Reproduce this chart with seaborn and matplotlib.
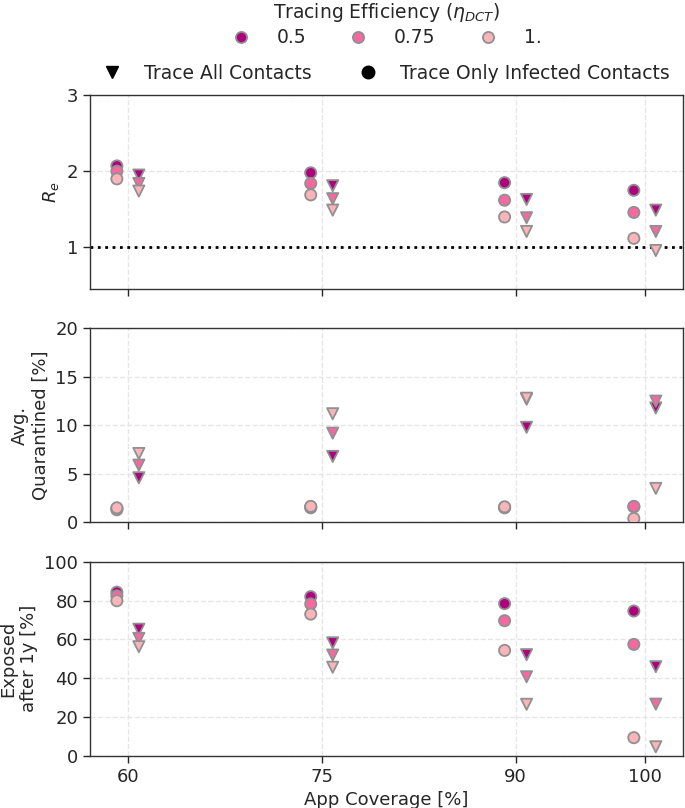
import matplotlib
matplotlib.use('Agg')
import matplotlib.pyplot as plt
from matplotlib.lines import Line2D
import numpy as np
import pandas as pd
import seaborn as sns

coverage = [60, 75, 90, 100]
efficiencies = ['0.5', '0.75', '1.']
methods = ['Trace All Contacts', 'Trace Only Infected Contacts']
eff_colors = ['#ae017e', '#f768a1', '#fbb4b9']

# values[method][efficiency] -> one value per coverage
re_all = {'0.5': [1.95, 1.81, 1.63, 1.49],
          '0.75': [1.84, 1.64, 1.39, 1.21],
          '1.': [1.74, 1.49, 1.21, 0.96]}
re_inf = {'0.5': [2.07, 1.98, 1.85, 1.75],
          '0.75': [2.00, 1.84, 1.62, 1.46],
          '1.': [1.90, 1.69, 1.40, 1.12]}

quar_all = {'0.5': [4.6, 6.8, 9.8, 11.8],
            '0.75': [5.9, 9.2, 12.7, 12.5],
            '1.': [7.1, 11.2, 12.8, 3.5]}
quar_inf = {'0.5': [1.3, 1.5, 1.5, 1.6],
            '0.75': [1.4, 1.6, 1.55, 1.65],
            '1.': [1.5, 1.65, 1.6, 0.4]}

exp_all = {'0.5': [65.2, 58.2, 52.1, 45.9],
           '0.75': [60.5, 51.9, 40.7, 26.6],
           '1.': [56.2, 45.6, 26.5, 4.6]}
exp_inf = {'0.5': [84.3, 82.0, 78.4, 74.6],
           '0.75': [82.4, 78.2, 69.6, 57.4],
           '1.': [79.9, 73.0, 54.3, 9.3]}


def build_df(all_vals, inf_vals, name):
  rows = []
  for method, vals in zip(methods, [all_vals, inf_vals]):
    for eff in efficiencies:
      for cov, v in zip(coverage, vals[eff]):
        rows.append({'coverage': cov, 'eff': eff, 'method': method, name: v})
  return pd.DataFrame(rows)


sns.set_style('white')
plt.rcParams['font.family'] = ['DejaVu Sans']
plt.rcParams['font.size'] = 13

fig, axes = plt.subplots(3, 1, figsize=(6.85, 8.08), dpi=100, sharex=True)
fig.subplots_adjust(left=0.131, right=0.997, top=0.8824, bottom=0.0647, hspace=0.203)

offset = {'Trace All Contacts': 0.85, 'Trace Only Infected Contacts': -0.85}
panels = [(re_all, re_inf, 'Re', '$R_e$', (0.455, 3), [1, 2, 3]),
          (quar_all, quar_inf, 'quar', 'Avg.\nQuarantined [%]', (0, 20), [0, 5, 10, 15, 20]),
          (exp_all, exp_inf, 'exp', 'Exposed\nafter 1y [%]', (0, 100), [0, 20, 40, 60, 80, 100])]

for ax, (all_vals, inf_vals, name, label, ylim, yticks) in zip(axes, panels):
  df = build_df(all_vals, inf_vals, name)
  df['xpos'] = df['coverage'] + df['method'].map(offset)
  sns.scatterplot(data=df, x='xpos', y=name, hue='eff', style='method',
                  hue_order=efficiencies, palette=eff_colors,
                  markers={'Trace All Contacts': 'v', 'Trace Only Infected Contacts': 'o'},
                  s=65, edgecolor='#909090', linewidth=1.3, legend=False, ax=ax, zorder=3)
  if name == 'Re':
    ax.axhline(1, color='black', linestyle=':', linewidth=2, zorder=2)
  ax.set_ylim(*ylim)
  ax.set_yticks(yticks)
  ax.set_ylabel(label, fontsize=13)
  ax.set_xlabel('')
  ax.grid(True, linestyle='--', color='#e6e6e6', linewidth=1)
  ax.tick_params(axis='both', direction='out', length=5, width=1, labelsize=13,
                 left=True, bottom=True)
  for sp in ax.spines.values():
    sp.set_color('#333333')
    sp.set_linewidth(1)

axes[-1].set_xlim(57.05, 102.95)
axes[-1].set_xticks(coverage)
axes[-1].set_xlabel('App Coverage [%]', fontsize=13)

eff_handles = [Line2D([], [], marker='o', linestyle='', markersize=8,
                      markerfacecolor=c, markeredgecolor='#909090', markeredgewidth=1.3)
               for c in eff_colors]
fig.legend(eff_handles, efficiencies, title='Tracing Efficiency ($\\eta_{DCT}$)',
           loc='center', bbox_to_anchor=(0.564, 0.970), ncol=3, frameon=False,
           fontsize=13.5, title_fontsize=13.5, handlelength=1, handletextpad=1.4,
           columnspacing=2.3, labelspacing=0.2)
method_handles = [Line2D([], [], marker='v', linestyle='', markersize=9, color='black'),
                  Line2D([], [], marker='o', linestyle='', markersize=9, color='black')]
fig.legend(method_handles, methods, loc='center', bbox_to_anchor=(0.564, 0.909), ncol=2,
           frameon=False, fontsize=13.5, handlelength=1, handletextpad=1.2, columnspacing=2.5)

fig.savefig('out.png', dpi=100)
